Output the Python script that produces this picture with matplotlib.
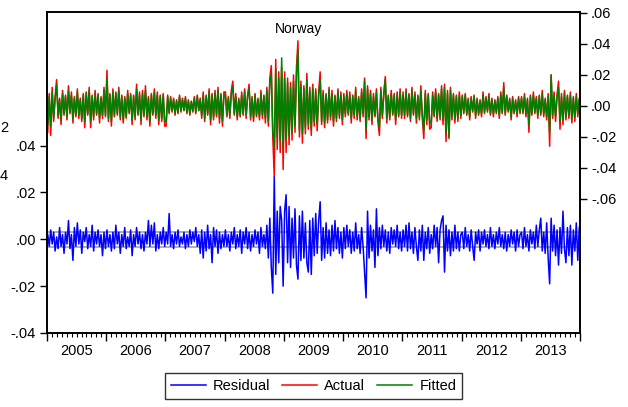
import matplotlib
matplotlib.use('Agg')
import matplotlib.pyplot as plt
import matplotlib.transforms as mtransforms
from matplotlib.ticker import FuncFormatter
import numpy as np

plt.rcParams['font.family'] = ['Liberation Sans', 'DejaVu Sans']

years = [2005, 2006, 2007, 2008, 2009, 2010, 2011, 2012, 2013]

# values in thousandths (about 40 per year)
r05 = [2,-3,4,-2,3,-5,1,-4,5,-3,2,-6,3,-2,8,-4,2,-9,5,-3,7,-2,4,-6,3,-1,5,-4,2,-3,6,-5,3,-2,4,-3,2,-7,3,-4]
r06 = [4,-3,2,-5,3,-4,6,-2,3,-6,2,-3,5,-4,1,-3,4,-7,2,-3,5,-2,3,-4,2,-5,3,-2,8,-3,6,-2,7,-5,2,-4,3,-2,5,-3]
r07 = [3,-2,11,-3,2,-4,3,-2,4,-3,1,-2,3,-4,2,-3,4,-2,3,-1,5,-3,2,-6,4,-8,3,-5,6,-4,2,-10,5,-3,4,-6,3,-4,2,-3]
r08 = [4,-3,2,-5,3,-2,5,-4,2,-3,4,-6,3,-2,5,-4,3,-5,2,-3,4,-2,3,-6,5,-3,2,-4,6,-8,9,-12,-23,27,-15,12,-10,14,8,-20]
r09 = [12,19,-10,14,-12,9,-8,13,-11,-17,10,-9,12,-8,7,-10,-14,8,-15,9,-7,11,-6,8,16,-9,5,-8,7,-6,4,-7,6,-5,8,-4,5,-6,3,-8]
r10 = [5,-4,6,-3,4,-6,3,-5,7,-4,2,-6,5,-3,-14,-25,12,-8,6,-5,4,-12,13,-7,5,-4,6,-3,4,-5,3,-6,5,-2,4,-3,6,-4,3,-5]
r11 = [4,-3,6,-5,7,-4,3,-6,5,-3,-9,4,-5,6,-9,3,-4,5,-6,2,-4,6,-3,5,-10,4,8,10,-14,6,-5,4,-7,3,-5,6,-4,3,-5,2]
r12 = [3,-4,5,-3,2,-5,4,-3,-9,3,-2,4,-5,3,-2,4,-3,2,-4,5,-3,2,-4,3,-2,5,-3,2,-4,3,-5,2,-3,4,-2,3,-5,4,-3,2]
r13 = [3,-4,5,-3,2,-5,4,-2,3,-4,6,-3,4,9,-5,3,-6,7,-8,-19,9,-5,6,-7,4,-11,5,-6,12,-4,-10,5,-7,6,-11,4,-5,7,-9,5]

a05 = [-17,8,-19,12,-10,6,17,-8,5,-12,10,-6,7,-9,13,-5,9,-11,6,-7,11,-8,5,-10,8,-14,9,-6,12,-14,7,-9,10,-6,8,-11,6,-8,12,-7]
a06 = [23,-10,8,-13,11,-7,9,-6,12,-9,7,-11,6,-8,10,-5,8,-12,7,-9,14,-6,9,-12,10,-7,13,-9,6,-13,8,-6,11,-8,9,-12,7,-10,8,-13]
a07 = [-13,7,-5,6,-4,5,-6,4,-5,7,-4,5,-3,6,-5,4,-6,3,-4,6,-5,7,-3,5,-8,9,-10,7,-6,11,-12,8,-9,10,-7,12,-11,8,-13,9]
a08 = [9,-7,6,-8,10,16,-6,8,-9,5,-7,9,-6,11,-8,7,14,-9,6,-10,8,-7,5,-9,10,-8,7,-11,12,-13,18,26,-20,-45,30,-28,22,-30,25,-41]
a09 = [22,-30,18,-25,15,-22,20,-17,25,42,-20,16,-24,13,-18,21,-15,12,-19,14,-13,11,-16,9,22,-12,10,-14,8,-11,12,-9,10,-13,7,-10,11,-8,9,-12]
a10 = [8,-7,10,-6,9,-11,7,-8,12,-9,6,-10,11,-7,18,-21,13,-9,10,-12,8,-7,11,-10,-19,12,-8,9,19,-11,7,-9,10,-6,8,-12,9,-7,11,-8]
a11 = [9,-8,11,-7,8,-10,12,-6,9,-11,7,-9,13,-8,-21,10,-12,8,-15,-14,9,-7,11,-10,8,-9,13,-12,14,-23,10,-21,12,-9,8,-11,7,-10,9,-8]
a12 = [7,-5,8,-6,5,-9,6,-4,7,-8,5,-6,4,-7,9,-5,6,-4,8,-6,5,-7,4,-5,6,-8,9,-5,15,-6,7,-4,5,-9,6,-5,4,-7,6,-5]
a13 = [6,-5,8,-7,5,-17,7,-6,9,-5,6,-8,7,-6,10,-7,5,-9,8,-26,20,-8,9,-10,7,16,-15,8,-12,10,-9,7,-8,9,-11,6,-10,8,-7,5]

f05 = [-12,6,-13,9,-8,5,14,-6,4,-9,8,-5,6,-7,10,-4,7,-8,5,-6,9,-6,4,-8,7,-10,8,-5,10,-10,6,-7,8,-5,7,-8,5,-6,10,-6]
f06 = [18,-8,7,-10,9,-6,8,-5,10,-7,6,-9,5,-7,8,-4,7,-9,6,-7,11,-5,7,-9,8,-6,10,-7,5,-10,7,-5,9,-6,7,-9,6,-8,7,-10]
f07 = [-10,6,-4,5,-3,4,-5,3,-4,6,-3,4,-3,5,-4,3,-5,3,-3,5,-4,6,-3,4,-6,7,-8,6,-5,9,-9,7,-7,8,-6,10,-8,7,-10,7]
f08 = [7,-6,5,-6,8,13,-5,6,-7,4,-6,7,-5,9,-6,6,11,-7,5,-8,7,-6,4,-7,8,-6,6,-8,10,-10,15,21,-16,-26,24,-20,18,-22,31,-27]
f09 = [18,-22,15,-19,12,-17,16,-13,20,36,-16,13,-18,11,-14,17,-12,10,-15,11,-10,9,-12,7,17,-10,8,-11,7,-9,10,-7,8,-10,6,-8,9,-6,7,-9]
f10 = [6,-5,8,-5,7,-8,6,-6,10,-7,5,-8,9,-5,16,-15,11,-7,8,-9,6,-6,9,-8,-14,10,-6,7,17,-8,6,-7,8,-5,7,-9,7,-6,9,-6]
f11 = [7,-6,9,-6,7,-8,10,-5,7,-8,6,-7,10,-6,-16,8,-9,7,-11,-11,7,-6,9,-8,7,-7,11,-9,12,-17,8,-20,10,-7,7,-8,6,-8,7,-6]
f12 = [6,-4,7,-5,4,-7,5,-3,6,-6,4,-5,3,-5,7,-4,5,-3,6,-5,4,-5,3,-4,5,-6,7,-4,12,-5,6,-3,4,-7,5,-4,3,-5,5,-4]
f13 = [5,-4,6,-5,4,-12,6,-5,7,-4,5,-6,6,-5,8,-5,4,-7,6,-17,20,-6,7,-7,6,12,-10,6,-9,8,-7,6,-6,7,-8,5,-7,6,-5,4]

se_band = 3.2  # residual +/- 1 S.E. lines, thousandths

residual = np.concatenate([r05, r06, r07, r08, r09, r10, r11, r12, r13]) * 0.001
actual = np.concatenate([a05, a06, a07, a08, a09, a10, a11, a12, a13]) * 0.001
fitted = np.concatenate([f05, f06, f07, f08, f09, f10, f11, f12, f13]) * 0.001

def time_axis(n):
    return years[0] + (np.arange(n) + 0.5) / n * len(years)

def fmt(v, pos):
    s = '%.2f' % v
    s = s.replace('0.', '.', 1)
    if s == '-.00':
        s = '.00'
    return s

W, H = 628, 407
fig = plt.figure(figsize=(W / 100, H / 100), dpi=100)
ax = fig.add_axes([47 / W, 1 - 333 / H, 533 / W, 321 / H])

ax.axhline(se_band * 0.001, color='#a0a0a0', lw=1.2)
ax.axhline(-se_band * 0.001, color='#a0a0a0', lw=1.2)
l1, = ax.plot(time_axis(len(residual)), residual, color='#0000ff', lw=1.1)
ax.set_xlim(2005, 2014)
ax.set_ylim(-0.04, 0.097)
ax.set_yticks([-0.04, -0.02, 0.0, 0.02, 0.04])
ax.yaxis.set_major_formatter(FuncFormatter(fmt))

ax2 = ax.twinx()
l2, = ax2.plot(time_axis(len(actual)), actual, color='#ff0000', lw=1.1)
l3, = ax2.plot(time_axis(len(fitted)), fitted, color='#008000', lw=1.1)
ax2.set_ylim(-0.1465, 0.0606)
ax2.set_yticks([-0.06, -0.04, -0.02, 0.0, 0.02, 0.04, 0.06])
ax2.yaxis.set_major_formatter(FuncFormatter(fmt))

# x axis: long ticks at year starts, short monthly ticks, labels mid-year
ax.set_xticks(range(2005, 2015))
ax.set_xticklabels([])
ax.set_xticks(np.arange(2005, 2014.001, 1 / 12), minor=True)
ax.tick_params(axis='x', which='major', length=6, width=1, direction='out')
ax.tick_params(axis='x', which='minor', length=3, width=0.8, direction='out')
ax.tick_params(axis='y', length=5, width=1, labelsize=10.5, pad=3)
ax2.tick_params(axis='y', length=5, width=1, labelsize=10.5, pad=3)
trans = mtransforms.blended_transform_factory(ax.transData, ax.transAxes)
for y in years:
    ax.text(y + 0.5, -0.057, str(y), transform=trans, ha='center', va='center', fontsize=10.5)

for a in (ax, ax2):
    for sp in a.spines.values():
        sp.set_linewidth(1.2)

fig.text(298 / W, 1 - 29 / H, 'Norway', ha='center', va='center', fontsize=10)

# labels of a neighbouring panel peeking in at the left edge
fig.text(0, 1 - 128 / H, '2', ha='left', va='center', fontsize=10.5)
fig.text(0, 1 - 176 / H, '4', ha='left', va='center', fontsize=10.5)

fig.legend([l1, l2, l3], ['Residual', 'Actual', 'Fitted'], loc='center',
           bbox_to_anchor=(313.5 / W, 1 - 386 / H), ncol=3, fontsize=10.5,
           frameon=True, fancybox=False, edgecolor='black', handlelength=2.4,
           columnspacing=0.8, borderpad=0.4, handletextpad=0.5)
fig.legends[0].get_frame().set_linewidth(1.0)

fig.savefig('out.png', dpi=100)
